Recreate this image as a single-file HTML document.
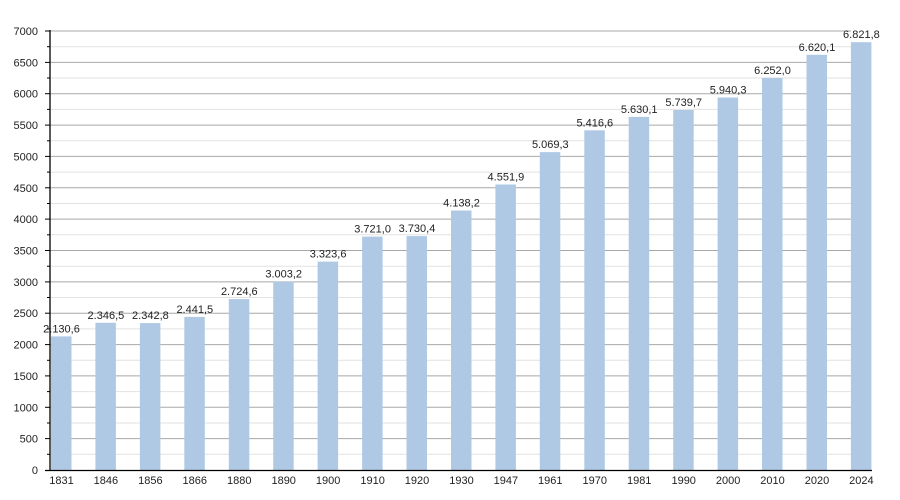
<!DOCTYPE html>
<html><head><meta charset="utf-8"><style>
html,body{margin:0;padding:0;background:#fff;width:900px;height:500px;overflow:hidden}
text{font-family:"Liberation Sans",sans-serif;font-size:11px;fill:#222}
</style></head><body>
<svg id="c" width="900" height="500" xmlns="http://www.w3.org/2000/svg"></svg>
<script>
var s=document.getElementById('c'),h='';
function Y(v){return 470-v*439/7000;}
for(var v=250;v<=7000;v+=250){var y=Y(v).toFixed(1);
 h+='<line x1="50" x2="851" y1="'+y+'" y2="'+y+'" stroke="'+(v%500==0?'#a8a8a8':'#e2e2e2')+'" stroke-width="1"/>';
 h+='<line x1="'+(v%500==0?45:47)+'" x2="50" y1="'+y+'" y2="'+y+'" stroke="#000"/>';
 if(v%500==0)h+='<text x="38" y="'+(Y(v)+4)+'" text-anchor="end">'+v+'</text>';}
h+='<text x="38" y="474" text-anchor="end">0</text>';
var d=[[1831,2130.6],[1846,2346.5],[1856,2342.8],[1866,2441.5],[1880,2724.6],[1890,3003.2],[1900,3323.6],[1910,3721.0],[1920,3730.4],[1930,4138.2],[1947,4551.9],[1961,5069.3],[1970,5416.6],[1981,5630.1],[1990,5739.7],[2000,5940.3],[2010,6252.0],[2020,6620.1],[2024,6821.8]];
function f(v){var p=v.toFixed(1).split('.');var i=p[0];if(i.length>3)i=i.slice(0,i.length-3)+'.'+i.slice(-3);return i+','+p[1];}
d.forEach(function(e,i){var x=51+44.44*i,y=Y(e[1]);
 h+='<rect x="'+x.toFixed(1)+'" y="'+y.toFixed(1)+'" width="20.5" height="'+(470-y).toFixed(1)+'" fill="#afc9e5"/>';
 h+='<text x="'+(x+10.5).toFixed(1)+'" y="'+(y-4).toFixed(1)+'" text-anchor="middle">'+f(e[1])+'</text>';
 h+='<text x="'+(x+10.5).toFixed(1)+'" y="484" text-anchor="middle">'+e[0]+'</text>';});
h+='<line x1="50" x2="50" y1="30" y2="471" stroke="#000" stroke-width="1.3"/>';
h+='<line x1="45" x2="872" y1="470.5" y2="470.5" stroke="#000" stroke-width="1.3"/>';
s.innerHTML=h;
</script>
</body></html>
